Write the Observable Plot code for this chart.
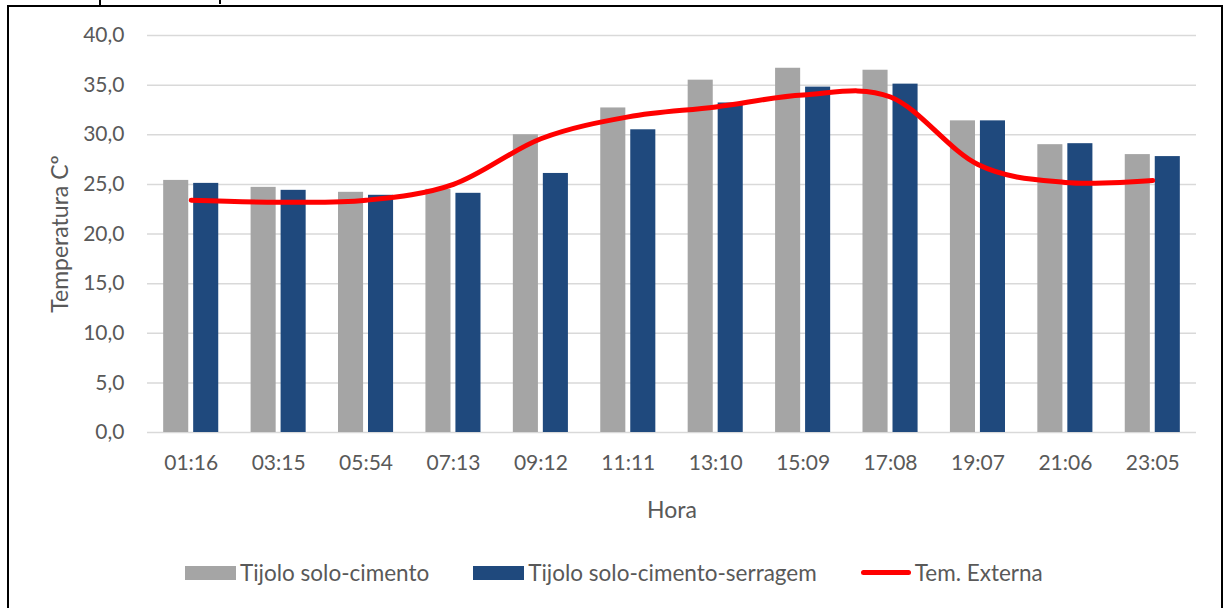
<!DOCTYPE html>
<html>
<head>
<meta charset="utf-8">
<script src="https://cdn.jsdelivr.net/npm/d3@7"></script>
<script src="https://cdn.jsdelivr.net/npm/@observablehq/plot@0.6"></script>
<style>
  html, body { margin: 0; padding: 0; background: #fff; }
  body { width: 1227px; height: 608px; position: relative; overflow: hidden; font-family: Lato, "Open Sans", sans-serif; }
  #frame { position: absolute; left: 7px; top: 5px; width: 1216px; height: 620px; border: 2px solid #000; border-bottom: none; box-sizing: border-box; }
  .cut { position: absolute; top: 0; width: 2px; height: 6px; background: #000; }
  #chart { position: absolute; left: 0; top: 0; }
  #legend { position: absolute; left: 185px; top: 559px; display: flex; gap: 44px; align-items: center; color: #595959; font-size: 22.5px; }
  .item { display: flex; align-items: center; gap: 4px; }
  .sw { width: 51px; height: 14px; }
  .ln { width: 50px; height: 5px; border-radius: 3px; }
</style>
</head>
<body>
<div id="frame"></div>
<div class="cut" style="left:99px"></div>
<div class="cut" style="left:219px;height:4px"></div>
<div id="chart"></div>
<div id="legend"></div>
<script>
// Hourly readings
const horas = ["01:16", "03:15", "05:54", "07:13", "09:12", "11:11", "13:10", "15:09", "17:08", "19:07", "21:06", "23:05"];
const soloCimento = [25.4, 24.7, 24.2, 24.5, 30.0, 32.7, 35.5, 36.7, 36.5, 31.4, 29.0, 28.0];
const soloCimentoSerragem = [25.1, 24.4, 23.9, 24.1, 26.1, 30.5, 33.2, 34.8, 35.1, 31.4, 29.1, 27.8];
const temExterna = [23.4, 23.2, 23.4, 25.0, 29.6, 31.8, 32.8, 34.0, 33.8, 27.0, 25.2, 25.4];
const yTicks = [0, 5, 10, 15, 20, 25, 30, 35, 40];

const series = [
  { name: "Tijolo solo-cimento", color: "#A5A5A5" },
  { name: "Tijolo solo-cimento-serragem", color: "#1F497D" },
  { name: "Tem. Externa", color: "#FF0000" }
];

const gray = horas.map((h, i) => ({ hora: h, v: soloCimento[i] }));
const blue = horas.map((h, i) => ({ hora: h, v: soloCimentoSerragem[i] }));
const ext = horas.map((h, i) => ({ hora: h, v: temExterna[i] }));

const fmt = d => d.toFixed(1).replace(".", ",");
const textColor = "#595959";

const chart = Plot.plot({
  width: 1227,
  height: 545,
  marginLeft: 147,
  marginRight: 31,
  marginTop: 35,
  marginBottom: 113,
  style: { fontFamily: "Lato, 'Open Sans', sans-serif", fontSize: "21px", color: textColor, background: "transparent" },
  x: { type: "band", domain: horas, paddingInner: 0.37, paddingOuter: 0.185, round: false },
  y: { domain: [0, 40] },
  marks: [
    Plot.gridY(yTicks, { stroke: "#D9D9D9", strokeOpacity: 1, strokeWidth: 1.5 }),
    Plot.barY(gray, { x: "hora", y: "v", fill: series[0].color, insetRight: 30 }),
    Plot.barY(blue, { x: "hora", y: "v", fill: series[1].color, insetLeft: 30 }),
    Plot.line(ext, { x: "hora", y: "v", stroke: series[2].color, strokeWidth: 5, curve: "cardinal", tension: 0, strokeLinecap: "round" }),
    Plot.axisY(yTicks, { tickSize: 0, tickPadding: 23, tickFormat: fmt, fill: textColor, fontSize: 21, label: null }),
    Plot.axisX({ tickSize: 0, tickPadding: 23, fill: textColor, fontSize: 21, label: null }),
    // axis titles
    Plot.text(["Temperatura Cº"], { frameAnchor: "left", rotate: -90, dx: -87, textAnchor: "middle", lineAnchor: "middle", fontSize: 23, fill: textColor }),
    Plot.text(["Hora"], { frameAnchor: "bottom", dy: 78, lineAnchor: "middle", fontSize: 23, fill: textColor })
  ]
});
document.getElementById("chart").appendChild(chart);

const legend = document.getElementById("legend");
series.forEach((s, i) => {
  const item = document.createElement("div");
  item.className = "item";
  const mark = document.createElement("div");
  mark.className = i === 2 ? "ln" : "sw";
  mark.style.background = s.color;
  const label = document.createElement("span");
  label.textContent = s.name;
  item.appendChild(mark);
  item.appendChild(label);
  legend.appendChild(item);
});
</script>
</body>
</html>
